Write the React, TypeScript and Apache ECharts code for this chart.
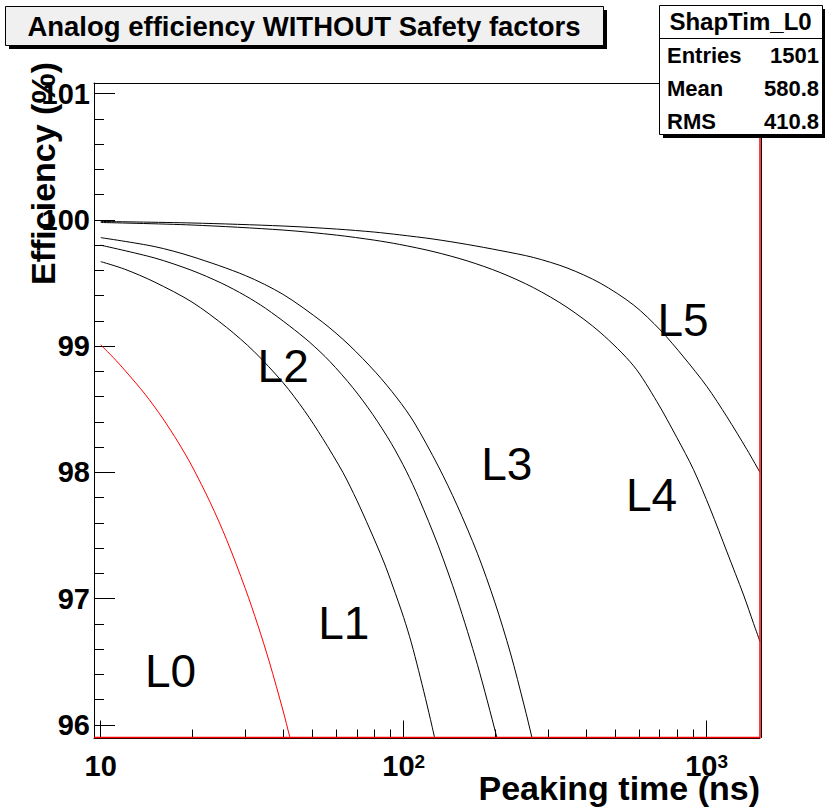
import React, { useEffect, useRef } from 'react';
import * as echarts from 'echarts';

// ---- axis ranges / ticks ----
const X_MIN = 9.5;
const X_MAX = 1500;
const Y_MIN = 95.9;
const Y_MAX = 101.085;
const X_MAJOR = [10, 100, 1000];
const X_MINOR = [20, 30, 40, 50, 60, 70, 80, 90, 200, 300, 400, 500, 600, 700, 800, 900];
const Y_MAJOR = [96, 97, 98, 99, 100, 101];
const Y_MINOR_STEPS = [0.2, 0.4, 0.6, 0.8];

const TITLE = 'Analog efficiency WITHOUT Safety factors';
const X_NAME = 'Peaking time (ns)';
const Y_NAME = 'Efficiency (%)';
const STATS_NAME = 'ShapTim_L0';
const STATS_KEYS = ['Entries', 'Mean', 'RMS'];
const STATS_VALUES = ['1501', '580.8', '410.8'];

// ---- curves: peaking time (ns) and efficiency (%) ----
const L0_T = [10, 11, 12, 14, 16, 18, 20, 23, 26, 30, 33, 36, 40, 42, 45];
const L0_V = [99.01, 98.91, 98.81, 98.62, 98.43, 98.24, 98.05, 97.76, 97.47, 97.08, 96.79, 96.5, 96.11, 95.91, 95.62];

const L1_T = [10, 12, 15, 20, 26, 32, 40, 47, 54, 63, 70, 77, 86, 92, 100, 106, 112, 118, 124, 130];
const L1_V = [99.67, 99.61, 99.51, 99.35, 99.15, 98.96, 98.71, 98.49, 98.27, 98.0, 97.78, 97.56, 97.29, 97.1, 96.85, 96.65, 96.43, 96.21, 95.99, 95.77];

const L2_T = [10, 15, 20, 25, 30, 35, 42, 49, 57, 68, 79, 91, 102, 112, 130, 150, 175, 203, 215];
const L2_V = [99.8, 99.7, 99.6, 99.5, 99.4, 99.3, 99.16, 99.03, 98.88, 98.67, 98.46, 98.23, 98.01, 97.8, 97.42, 97.0, 96.48, 95.9, 95.65];

const L3_T = [10, 15, 20, 30, 40, 54, 66, 81, 95, 108, 130, 150, 175, 200, 225, 250, 265, 280];
const L3_V = [99.86, 99.79, 99.71, 99.56, 99.41, 99.19, 99.01, 98.79, 98.59, 98.4, 98.05, 97.74, 97.36, 96.97, 96.57, 96.15, 95.9, 95.64];

const L4_T = [10, 20, 40, 60, 80, 97, 125, 162, 208, 268, 346, 445, 574, 685, 797, 905, 1028, 1167, 1324, 1429, 1500];
const L4_V = [99.98, 99.96, 99.92, 99.88, 99.84, 99.806, 99.75, 99.676, 99.584, 99.464, 99.308, 99.11, 98.844, 98.561, 98.277, 98.022, 97.71, 97.37, 97.029, 96.802, 96.66];

const L5_T = [10, 20, 40, 60, 80, 97, 125, 162, 208, 268, 346, 445, 574, 703, 839, 1002, 1167, 1359, 1500];
const L5_V = [99.988, 99.976, 99.952, 99.928, 99.904, 99.882, 99.849, 99.806, 99.758, 99.703, 99.62, 99.5, 99.326, 99.128, 98.915, 98.68, 98.44, 98.18, 98.0];

// curve label anchors (peaking time, efficiency)
const LABEL_NAMES = ['L0', 'L1', 'L2', 'L3', 'L4', 'L5'];
const LABEL_T = [17.0, 63.4, 40.0, 219, 658, 836];
const LABEL_V = [96.43, 96.81, 98.84, 98.07, 97.82, 99.21];

const FONT = '"Liberation Sans", Arial, Helvetica, sans-serif';

const CURVES = [
  { name: 'L0', t: L0_T, v: L0_V, color: '#ff0000' },
  { name: 'L1', t: L1_T, v: L1_V, color: '#000000' },
  { name: 'L2', t: L2_T, v: L2_V, color: '#000000' },
  { name: 'L3', t: L3_T, v: L3_V, color: '#000000' },
  { name: 'L4', t: L4_T, v: L4_V, color: '#000000' },
  { name: 'L5', t: L5_T, v: L5_V, color: '#000000' },
];

function buildOption(): echarts.EChartsOption {
  const lx = (t: number) => Math.log10(t);
  const yMinor: number[] = [];
  Y_MAJOR.slice(0, -1).forEach((m) => Y_MINOR_STEPS.forEach((s) => yMinor.push(+(m + s).toFixed(1))));
  const black = { color: '#000', width: 1 };

  const series: any[] = CURVES.map((c) => ({
    type: 'line',
    name: c.name,
    data: c.t.map((t, i) => [lx(t), c.v[i]]),
    showSymbol: false,
    symbol: 'none',
    smooth: 0.3,
    silent: true,
    z: 3,
    lineStyle: { color: c.color, width: 1 },
  }));

  // L0 histogram outline running along the right and lower frame edges (as drawn by ROOT)
  series.push({
    type: 'line',
    name: 'L0 edge',
    data: [
      [lx(X_MAX), Y_MAX],
      [lx(X_MAX), Y_MIN],
      [lx(X_MIN), Y_MIN],
    ],
    showSymbol: false,
    symbol: 'none',
    clip: false,
    silent: true,
    z: 10,
    lineStyle: { color: '#ff0000', width: 1.5 },
  });

  series.push({
    type: 'scatter',
    name: 'labels',
    silent: true,
    symbolSize: 1,
    itemStyle: { color: 'rgba(0,0,0,0)' },
    z: 4,
    data: LABEL_NAMES.map((n, i) => ({ name: n, value: [lx(LABEL_T[i]), LABEL_V[i]] })),
    label: {
      show: true,
      position: 'inside',
      formatter: '{b}',
      fontSize: 46,
      fontFamily: FONT,
      fontWeight: 'normal',
      color: '#000000',
      textBorderWidth: 0,
      opacity: 1,
    },
  });

  const sx = 659, sy = 5, sw = 163, sh = 129;
  const rowY = [55, 88, 121];

  return {
    animation: false,
    backgroundColor: '#ffffff',
    grid: {
      left: 94,
      top: 83,
      right: 65,
      bottom: 69.5,
      show: false,
      containLabel: false,
      outerBoundsMode: 'none',
    } as any,
    xAxis: [
      {
        type: 'value',
        position: 'bottom',
        offset: 1,
        min: lx(X_MIN),
        max: lx(X_MAX),
        axisLine: { show: true, onZero: false, lineStyle: black },
        axisTick: { show: true, inside: true, length: 18, customValues: X_MAJOR.map(lx), lineStyle: black },
        axisLabel: {
          show: true,
          customValues: X_MAJOR.map(lx),
          margin: 13,
          formatter: (v: number) => {
            const e = Math.round(v);
            return e === 1 ? '{b|10}' : '{b|10}{s|' + e + '}';
          },
          rich: {
            b: { fontSize: 29, fontWeight: 'bold', fontFamily: FONT, color: '#000' },
            s: { fontSize: 19, fontWeight: 'bold', fontFamily: FONT, color: '#000', verticalAlign: 'top' },
          },
        },
        splitLine: { show: false },
        name: X_NAME,
        nameLocation: 'end',
        nameGap: 0,
        nameMoveOverlap: false,
        nameTextStyle: {
          fontSize: 34,
          fontWeight: 'bold',
          fontFamily: FONT,
          color: '#000',
          align: 'right',
          verticalAlign: 'top',
          padding: [32, 0, 0, 0],
        },
      } as any,
      {
        type: 'value',
        position: 'bottom',
        offset: 1,
        min: lx(X_MIN),
        max: lx(X_MAX),
        axisLine: { show: false, onZero: false },
        axisTick: { show: true, inside: true, length: 9, customValues: X_MINOR.map(lx), lineStyle: black },
        axisLabel: { show: false },
        splitLine: { show: false },
      } as any,
      {
        type: 'value',
        position: 'top',
        min: lx(X_MIN),
        max: lx(X_MAX),
        axisLine: { show: true, onZero: false, lineStyle: black },
        axisTick: { show: false },
        axisLabel: { show: false },
        splitLine: { show: false },
      } as any,
    ],
    yAxis: [
      {
        type: 'value',
        position: 'left',
        min: Y_MIN,
        max: Y_MAX,
        axisLine: { show: true, onZero: false, lineStyle: black },
        axisTick: { show: true, inside: true, length: 21, customValues: Y_MAJOR, lineStyle: black },
        axisLabel: {
          show: true,
          customValues: Y_MAJOR,
          margin: 4,
          fontSize: 29,
          fontWeight: 'bold',
          fontFamily: FONT,
          color: '#000',
          formatter: (v: number) => String(Math.round(v)),
        },
        splitLine: { show: false },
        name: Y_NAME,
        nameLocation: 'end',
        nameRotate: 90,
        nameGap: 21,
        nameMoveOverlap: false,
        nameTextStyle: {
          fontSize: 34,
          fontWeight: 'bold',
          fontFamily: FONT,
          color: '#000',
          align: 'right',
          verticalAlign: 'bottom',
          padding: [0, 0, 34, 0],
        },
      } as any,
      {
        type: 'value',
        position: 'left',
        min: Y_MIN,
        max: Y_MAX,
        axisLine: { show: false, onZero: false },
        axisTick: { show: true, inside: true, length: 10, customValues: yMinor, lineStyle: black },
        axisLabel: { show: false },
        splitLine: { show: false },
      } as any,
      {
        type: 'value',
        position: 'right',
        offset: 1,
        min: Y_MIN,
        max: Y_MAX,
        axisLine: { show: true, onZero: false, lineStyle: black },
        axisTick: { show: false },
        axisLabel: { show: false },
        splitLine: { show: false },
      } as any,
    ],
    series,
    graphic: [
      // title box
      { type: 'rect', z: 100, shape: { x: 9, y: 10, width: 598, height: 39 }, style: { fill: '#000' } },
      { type: 'rect', z: 101, shape: { x: 5.5, y: 6.5, width: 598, height: 39 }, style: { fill: '#f0f0f0', stroke: '#000', lineWidth: 1 } },
      {
        type: 'text', z: 102, x: 304, y: 26,
        style: { text: TITLE, fontSize: 27.5, fontWeight: 'bold', fontFamily: FONT, fill: '#000', align: 'center', verticalAlign: 'middle' },
      },
      // stats box
      { type: 'rect', z: 100, shape: { x: sx + 4, y: sy + 4, width: sw, height: sh }, style: { fill: '#000' } },
      { type: 'rect', z: 101, shape: { x: sx + 0.5, y: sy + 0.5, width: sw, height: sh }, style: { fill: '#ffffff', stroke: '#000', lineWidth: 1 } },
      { type: 'line', z: 102, shape: { x1: sx, y1: 38.5, x2: sx + sw, y2: 38.5 }, style: { stroke: '#000', lineWidth: 1 } },
      {
        type: 'text', z: 102, x: sx + sw / 2, y: 21.5,
        style: { text: STATS_NAME, fontSize: 24, fontWeight: 'bold', fontFamily: FONT, fill: '#000', align: 'center', verticalAlign: 'middle' },
      },
      ...STATS_KEYS.map((k, i) => ({
        type: 'text', z: 102, x: sx + 8, y: rowY[i],
        style: { text: k, fontSize: 22, fontWeight: 'bold', fontFamily: FONT, fill: '#000', align: 'left', verticalAlign: 'middle' },
      })),
      ...STATS_VALUES.map((v, i) => ({
        type: 'text', z: 102, x: sx + sw - 3, y: rowY[i],
        style: { text: v, fontSize: 22, fontWeight: 'bold', fontFamily: FONT, fill: '#000', align: 'right', verticalAlign: 'middle' },
      })),
    ] as any,
  };
}

export default function App() {
  const ref = useRef<HTMLDivElement>(null);
  useEffect(() => {
    if (!ref.current) return;
    const chart = echarts.init(ref.current, null, { renderer: 'svg' });
    chart.setOption(buildOption());
    return () => chart.dispose();
  }, []);
  return (
    <div
      ref={ref}
      style={{ position: 'absolute', left: 0, top: 0, width: 825, height: 807, background: '#fff' }}
    />
  );
}
